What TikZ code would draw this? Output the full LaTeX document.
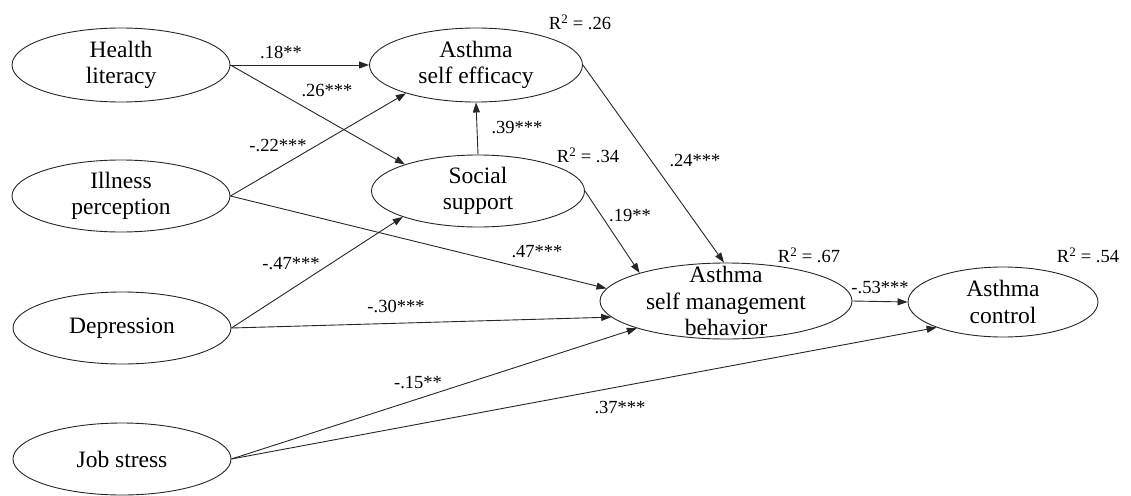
\documentclass[tikz,border=0pt]{standalone}
\usepackage{fontspec}
\setmainfont{Liberation Serif}
\usetikzlibrary{shapes.geometric,arrows.meta}
\begin{document}
\begin{tikzpicture}[x=1pt,y=-1pt,
  var/.style={draw=black!85, line width=0.9pt, ellipse, inner xsep=0pt, inner ysep=-15pt,
    align=center, font=\fontsize{23.5}{26.5}\selectfont},
  coef/.style={inner sep=0pt, font=\fontsize{18.5}{20}\selectfont},
  link/.style={draw=black!85, line width=0.9pt, -{Triangle[length=10pt,width=7pt]}}]
\useasboundingbox (0,0) rectangle (1131,495);

% latent variables
\node[var, minimum width=218pt, minimum height=74pt] (hl)  at (121,65)  {Health\\literacy};
\node[var, minimum width=218pt, minimum height=72pt] (ip)  at (121,196) {Illness\\perception};
\node[var, minimum width=218pt, minimum height=72pt] (dep) at (122,328) {Depression};
\node[var, minimum width=218pt, minimum height=72pt] (job) at (122,459) {Job stress};
\node[var, minimum width=213pt, minimum height=74pt] (ase) at (476,65)  {Asthma\\self efficacy};
\node[var, minimum width=213pt, minimum height=72pt] (ss)  at (478,191) {Social\\support};
\node[var, minimum width=252pt, minimum height=76pt] (smb) at (726,301) {Asthma\\self management\\behavior};
\node[var, minimum width=190pt, minimum height=70pt] (ac)  at (1003,302) {Asthma\\control};

% paths
\draw[link] (hl.east) -- (ase.west);
\draw[link] (hl.east) -- (ss.160);
\draw[link] (ip.east) -- (ase.202);
\draw[link] (ip.east) -- (smb.174);
\draw[link] (dep.east) -- (ss.199);
\draw[link] (dep.east) -- (smb.188);
\draw[link] (job.east) -- (smb.197);
\draw[link] (job.east) -- (ac.201);
\draw[link] (ss.north) -- (ase.south);
\draw[link] (ss.east) -- (smb.162);
\draw[link] (ase.east) -- (smb.93);
\draw[link] (smb.east) -- (ac.west);

% path coefficients
\node[coef] (c1)  at (281,52)  {.18**};
\node[coef] (c2)  at (327,91)  {.26***};
\node[coef] (c3)  at (278,146) {-.22***};
\node[coef] (c4)  at (517,128) {.39***};
\node[coef] (c5)  at (695,161) {.24***};
\node[coef] (c6)  at (630,216) {.19**};
\node[coef] (c7)  at (537,252) {.47***};
\node[coef] (c8)  at (291,264) {-.47***};
\node[coef] (c9)  at (396,306) {-.30***};
\node[coef] (c10) at (418,383) {-.15**};
\node[coef] (c11) at (620,408) {.37***};
\node[coef] (c12) at (880,288) {-.53***};

% explained variance
\node[coef] (r1) at (580,22)   {R\textsuperscript{2} = .26};
\node[coef] (r2) at (588,155)  {R\textsuperscript{2} = .34};
\node[coef] (r3) at (809,255)  {R\textsuperscript{2} = .67};
\node[coef] (r4) at (1088,255) {R\textsuperscript{2} = .54};
\end{tikzpicture}
\end{document}
